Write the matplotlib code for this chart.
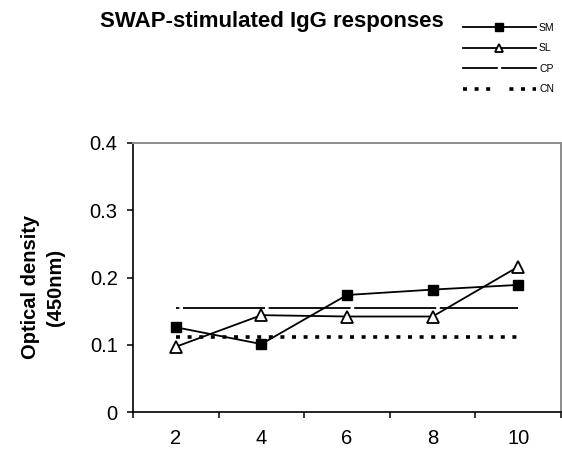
import numpy as np
import matplotlib
matplotlib.use("Agg")
import matplotlib.pyplot as plt
from matplotlib.lines import Line2D

plt.rcParams['font.family'] = ['Liberation Sans', 'DejaVu Sans']
plt.rcParams['lines.scale_dashes'] = False

# data
days = ['2', '4', '6', '8', '10']
sm = [0.126, 0.101, 0.174, 0.182, 0.189]
sl = [0.097, 0.144, 0.142, 0.142, 0.216]
cp = [0.154, 0.154, 0.154, 0.154, 0.154]
cn = [0.111, 0.111, 0.111, 0.111, 0.111]
yticks = [0, 0.1, 0.2, 0.3, 0.4]
ylabels = ['0', '0.1', '0.2', '0.3', '0.4']

W, H = 562, 453
fig = plt.figure(figsize=(W / 100, H / 100), dpi=100)
ax = fig.add_axes([133 / W, 41 / H, 428 / W, 269 / H])

x = np.arange(len(days))
px = 72 / 100  # one pixel in points

# CP: long dashes with small breaks near each point
cp_on, cp_off = 82 * px, 3.6 * px
cp_line, = ax.plot(x, cp, color='black', lw=1.3,
                   linestyle=(cp_on - 3.4 * px, (cp_on, cp_off)), zorder=2)
cn_line, = ax.plot(x, cn, color='black', lw=2.6,
                   linestyle=(0, (4 * px, 7.6 * px)), dash_capstyle='butt', zorder=2)
sm_line, = ax.plot(x, sm, color='black', lw=1.3, marker='s', ms=7.4,
                   mfc='black', mec='black', zorder=3)
sl_line, = ax.plot(x, sl, color='black', lw=1.3, marker='^', ms=8.6,
                   mfc='white', mec='black', mew=1.3, zorder=3)

ax.set_xlim(-0.5, len(days) - 0.5)
ax.set_ylim(0, 0.4)
ax.set_yticks(yticks)
ax.set_yticklabels(ylabels)
ax.set_xticks(np.arange(len(days) + 1) - 0.5)
ax.set_xticklabels([])
ax.set_xticks(x, minor=True)
ax.set_xticklabels(days, minor=True)
ax.tick_params(axis='x', which='major', direction='out', length=4, width=1.1)
ax.tick_params(axis='x', which='minor', length=0, pad=12, labelsize=14.5)
ax.tick_params(axis='y', direction='out', length=4, width=1.1, pad=7, labelsize=14.5)

for s in ['left', 'bottom']:
    ax.spines[s].set_color('black')
    ax.spines[s].set_linewidth(1.2)
for s in ['top', 'right']:
    ax.spines[s].set_color('#8c8c8c')
    ax.spines[s].set_linewidth(1.4)

fig.text(43 / W, 1 - 287 / H, 'Optical density\n(450nm)', rotation=90,
         ha='center', va='center', multialignment='center', linespacing=1.45,
         fontsize=14.5, fontweight='bold')

fig.text(272 / W, 1 - 21 / H, 'SWAP-stimulated IgG responses',
         ha='center', va='center', fontsize=16, fontweight='bold')

# legend proxies for the control lines (break in the middle like the original)
cp_h = Line2D([], [], color='black', lw=1.3, marker='s', ms=3,
              mfc='white', mec='white')
cn_h = Line2D([], [], color='black', lw=2.6, linestyle=(0, (4 * px, 7.6 * px)),
              marker='s', ms=12, mfc='white', mec='white')
fig.legend([sm_line, sl_line, cp_h, cn_h], ['SM', 'SL', 'CP', 'CN'],
           loc='upper left', bbox_to_anchor=(463 / W, 1 - 23 / H),
           frameon=False, fontsize=7.5, handlelength=7.0, handletextpad=0.3,
           labelspacing=1.0, borderpad=0, borderaxespad=0, markerscale=0.7)

fig.savefig('out.png', dpi=100, facecolor='white')
